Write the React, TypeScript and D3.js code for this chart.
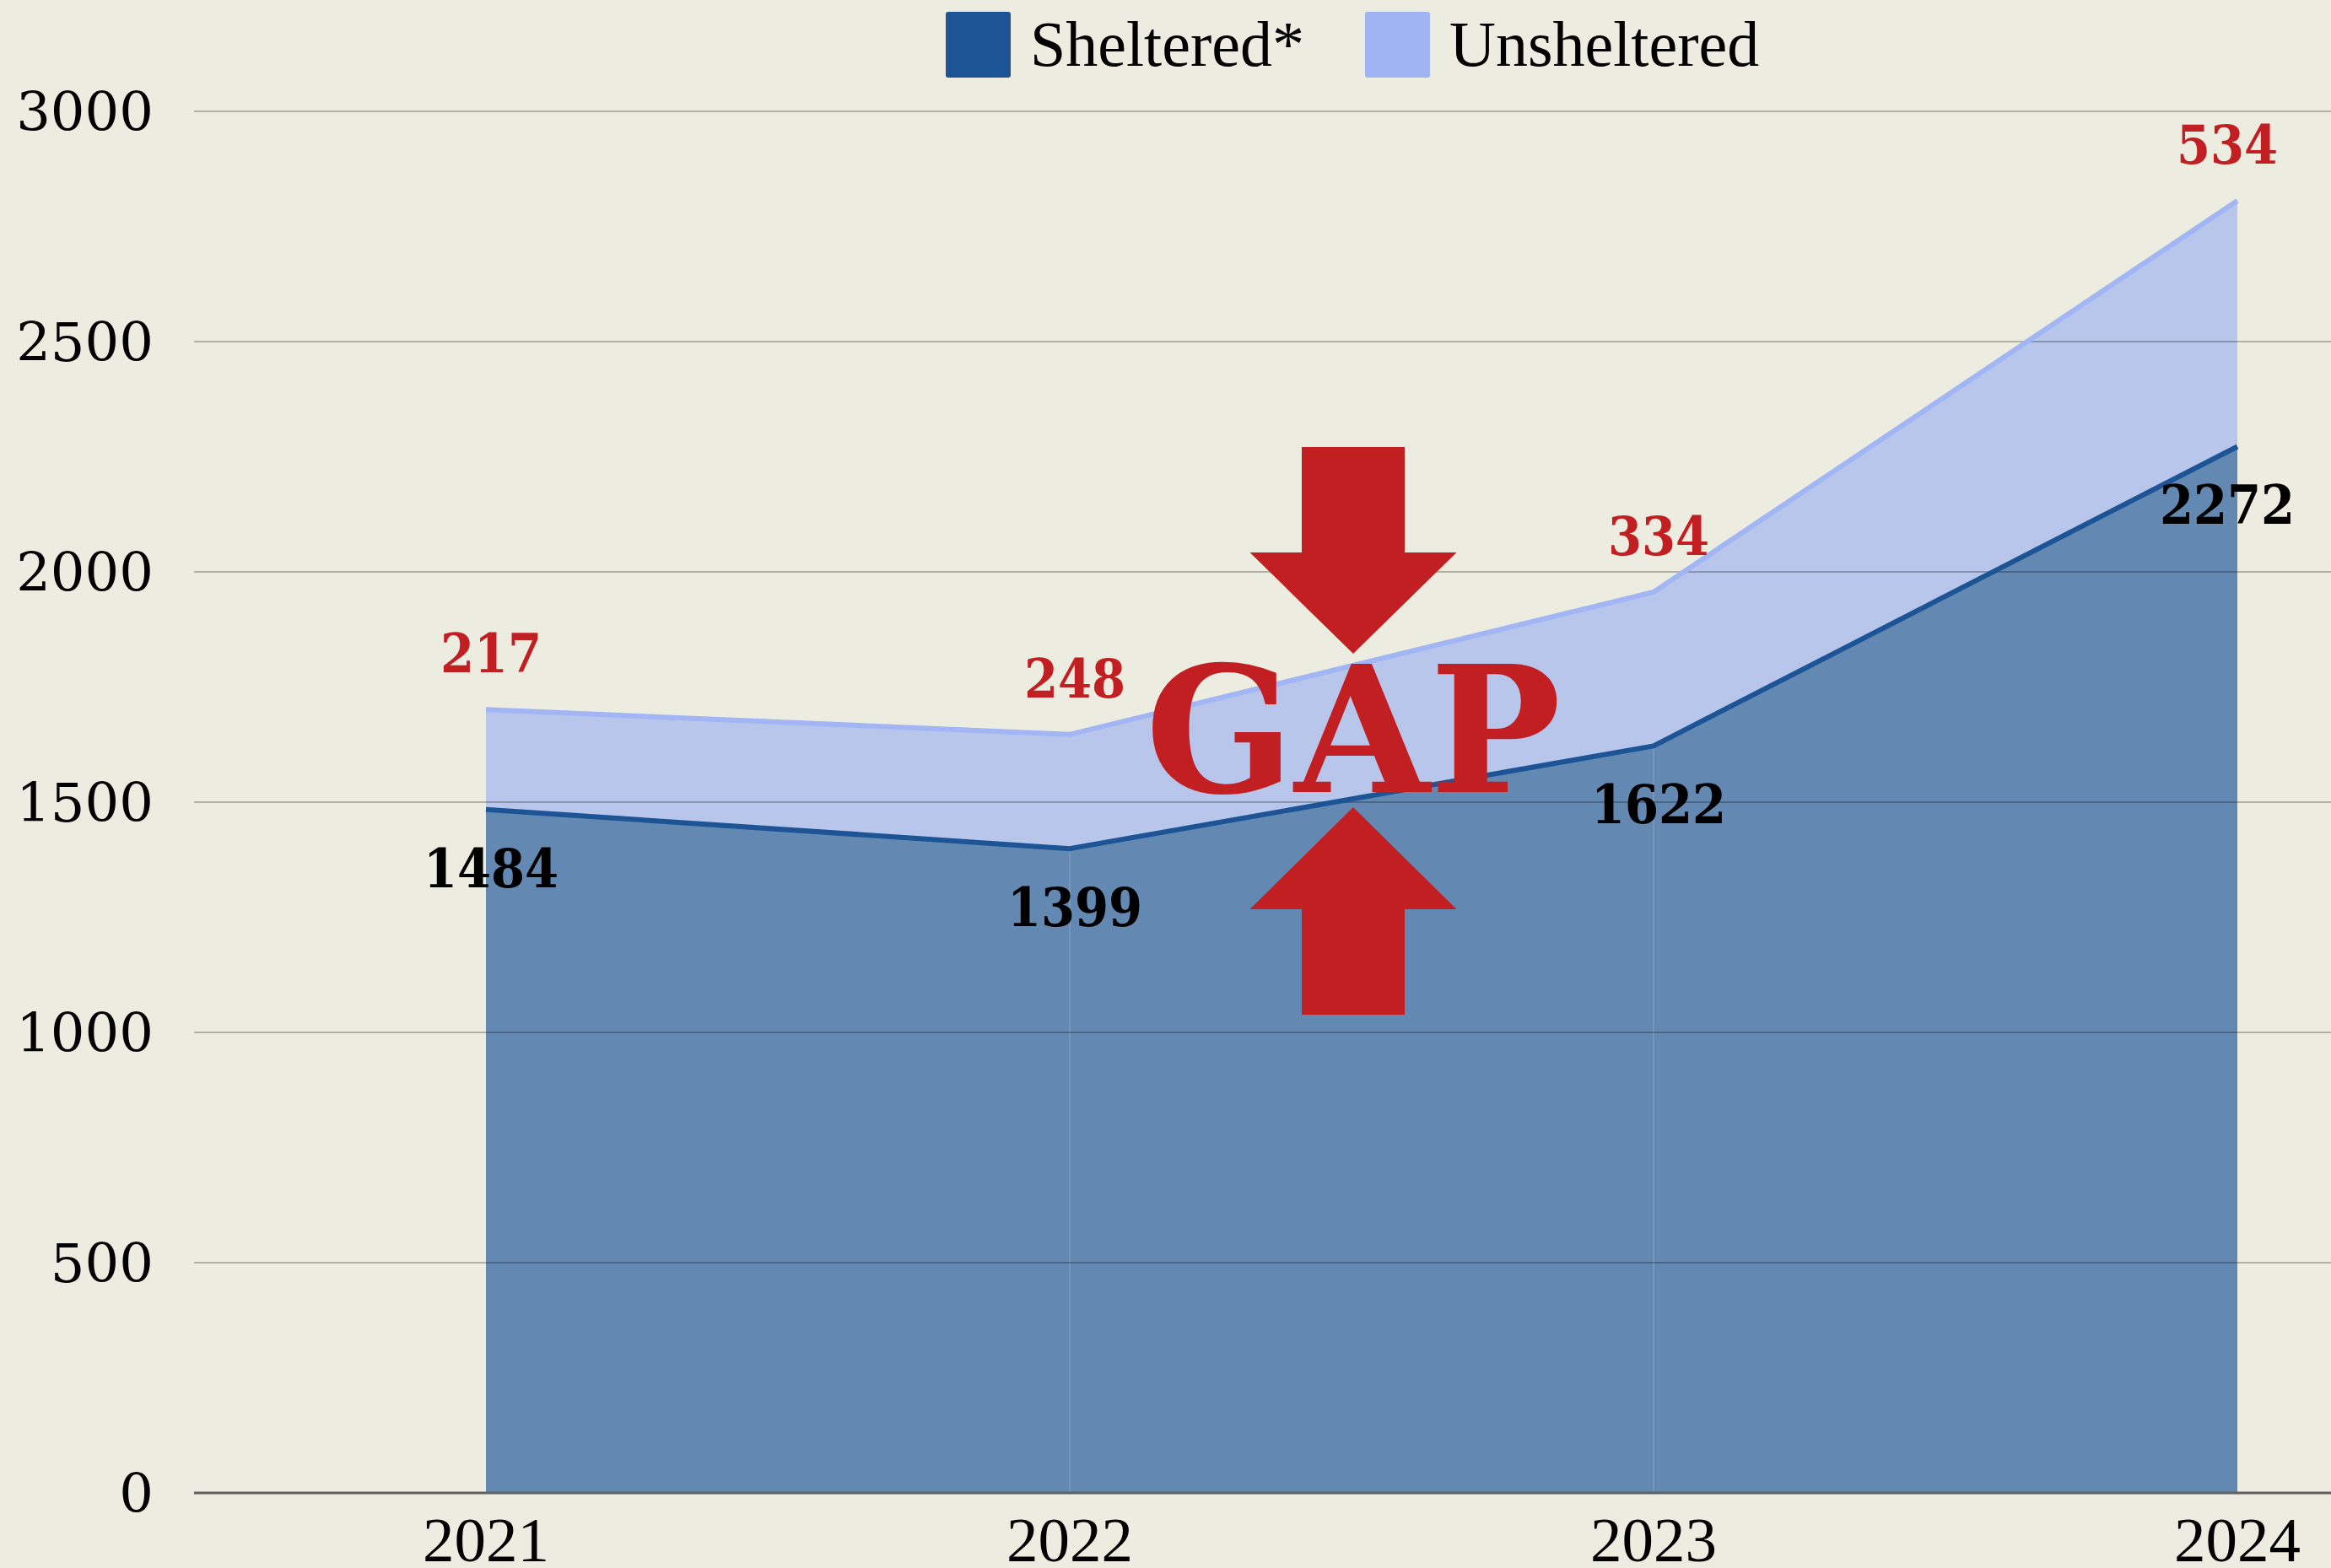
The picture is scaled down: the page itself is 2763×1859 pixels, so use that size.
import React from "react";
import * as d3 from "d3";

const years = ["2021", "2022", "2023", "2024"];
const sheltered = [1484, 1399, 1622, 2272];
const unsheltered = [217, 248, 334, 534];
const yTicks = [0, 500, 1000, 1500, 2000, 2500, 3000];
const legendItems = [
  { label: "Sheltered*", color: "#1C5496" },
  { label: "Unsheltered", color: "#A0B4F4" },
];

const W = 2763;
const H = 1859;
const BG = "#ECEDE0";
const RED = "#C21F22";

const x = d3.scalePoint<string>().domain(years).range([230, 2998]).padding(0.5);
const y = d3.scaleLinear().domain([0, 3000]).range([1770, 132]);

const rows = years.map((yr, i) => ({ year: yr, sheltered: sheltered[i], unsheltered: unsheltered[i] }));
const stacked = d3.stack<any>().keys(["sheltered", "unsheltered"])(rows);

const area = d3
  .area<any>()
  .x((d) => x(d.data.year) as number)
  .y0((d) => y(d[0]))
  .y1((d) => y(d[1]));
const topLine = d3
  .line<any>()
  .x((d) => x(d.data.year) as number)
  .y((d) => y(d[1]));

// GAP annotation (arrows pointing at the gap)
const gapX = 1604;
const shaftW = 122;
const headW = 245;

function downArrow(cx: number, top: number, headTop: number, tip: number) {
  return `M${cx - shaftW / 2},${top}H${cx + shaftW / 2}V${headTop}H${cx + headW / 2}L${cx},${tip}L${cx - headW / 2},${headTop}H${cx - shaftW / 2}Z`;
}
function upArrow(cx: number, tip: number, headBase: number, bottom: number) {
  return `M${cx},${tip}L${cx + headW / 2},${headBase}H${cx + shaftW / 2}V${bottom}H${cx - shaftW / 2}V${headBase}H${cx - headW / 2}Z`;
}

const labelFont = "'DejaVu Serif Condensed', 'DejaVu Serif', serif";
// keep labels inside the visible frame
const labelX = (yr: string) => Math.min((x(yr) as number) + 6, W - 123);

export default function App() {
  const fills = ["#6389B2", "#B7C6EA"];
  const strokes = ["#1C5496", "#A2B5F4"];
  return (
    <svg
      width={W}
      height={H}
      style={{ position: "absolute", left: 0, top: 0, display: "block" }}
    >
      <rect width={W} height={H} fill={BG} />

      {/* areas */}
      {stacked.map((s, i) => (
        <path key={"a" + i} d={area(s) as string} fill={fills[i]} />
      ))}

      {/* seams between area segments */}
      {years.slice(1, -1).map((yr, i) => (
        <line
          key={"seam" + yr}
          x1={x(yr)}
          x2={x(yr)}
          y1={y(0)}
          y2={y(sheltered[i + 1])}
          stroke="rgba(255,255,255,0.12)"
          strokeWidth={2}
        />
      ))}

      {/* grid */}
      {yTicks.map((t) => (
        <line
          key={"g" + t}
          x1={230}
          x2={W}
          y1={y(t)}
          y2={y(t)}
          stroke={t === 0 ? "#5f625f" : "rgba(0,0,0,0.25)"}
          strokeWidth={t === 0 ? 3 : 2}
        />
      ))}

      {/* series lines */}
      {stacked.map((s, i) => (
        <path key={"l" + i} d={topLine(s) as string} fill="none" stroke={strokes[i]} strokeWidth={6} />
      ))}

      {/* y axis labels */}
      {yTicks.map((t) => (
        <text
          key={"yl" + t}
          x={182}
          y={y(t)}
          dy="0.36em"
          textAnchor="end"
          fontFamily="'DejaVu Serif', serif"
          fontSize={64}
          fill="#000"
        >
          {t}
        </text>
      ))}

      {/* x axis labels */}
      {years.map((yr) => (
        <text
          key={"xl" + yr}
          x={x(yr)}
          y={1851}
          textAnchor="middle"
          fontFamily="'Liberation Serif', serif"
          fontSize={75}
          fill="#000"
        >
          {yr}
        </text>
      ))}

      {/* data labels */}
      {years.map((yr, i) => (
        <g key={"dl" + yr} fontFamily={labelFont} fontWeight="bold" fontSize={64} textAnchor="middle" style={{ fontStretch: "condensed" }}>
          <text x={labelX(yr)} y={y(sheltered[i] + unsheltered[i]) - 44} fill={RED}>
            {unsheltered[i]}
          </text>
          <text x={labelX(yr)} y={y(sheltered[i]) + 92} fill="#000">
            {sheltered[i]}
          </text>
        </g>
      ))}

      {/* GAP annotation */}
      <path d={downArrow(gapX, 530, 655, 775)} fill={RED} />
      <path d={upArrow(gapX, 957, 1078, 1203)} fill={RED} />
      <text
        x={gapX}
        y={939}
        textAnchor="middle"
        fontFamily="'DejaVu Serif', serif"
        fontWeight="bold"
        fontSize={207}
        fill={RED}
      >
        GAP
      </text>

      {/* legend */}
      {legendItems.map((item, i) => {
        const lx = [1121, 1618][i];
        return (
          <g key={"lg" + i}>
            <rect x={lx} y={14} width={77} height={78} rx={3} fill={item.color} />
            <text
              x={lx + 100}
              y={78}
              fontFamily="'Liberation Serif', serif"
              fontSize={76}
              fill="#000"
            >
              {item.label}
            </text>
          </g>
        );
      })}
    </svg>
  );
}
